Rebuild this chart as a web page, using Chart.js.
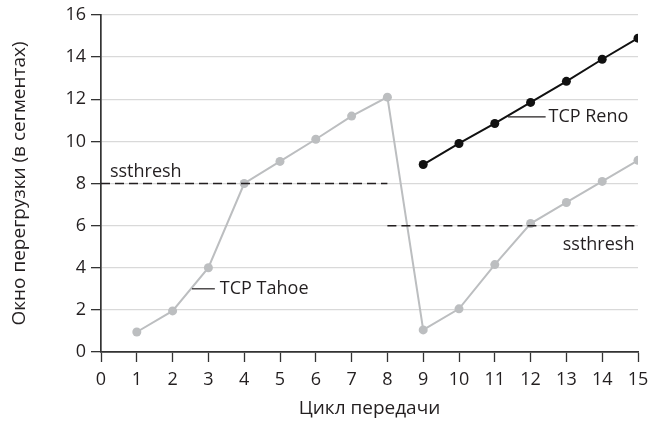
<!DOCTYPE html>
<html>
<head>
<meta charset="utf-8">
<script src="https://cdn.jsdelivr.net/npm/chart.js@4/dist/chart.umd.min.js"></script>
<style>
  html, body { margin: 0; padding: 0; background: #fff; }
  #wrap { width: 649px; height: 424px; }
</style>
</head>
<body>
<div id="wrap"><canvas id="cwnd"></canvas></div>
<script>
// данные
const tahoeRounds = [1, 2, 3, 4, 5, 6, 7, 8, 9, 10, 11, 12, 13, 14, 15];
const tahoeWindow = [0.95, 1.95, 4.0, 8.0, 9.05, 10.1, 11.2, 12.1, 1.05, 2.05, 4.15, 6.1, 7.1, 8.1, 9.1];
const renoRounds = [9, 10, 11, 12, 13, 14, 15];
const renoWindow = [8.9, 9.9, 10.85, 11.85, 12.85, 13.9, 14.9];
const ssthreshRounds1 = [0, 8];
const ssthreshValue1 = [8, 8];
const ssthreshRounds2 = [8, 15];
const ssthreshValue2 = [6, 6];
const xTicks = [0, 1, 2, 3, 4, 5, 6, 7, 8, 9, 10, 11, 12, 13, 14, 15];
const yTicks = [0, 2, 4, 6, 8, 10, 12, 14, 16];

const FONT = "'Open Sans', 'DejaVu Sans', sans-serif";
const INK = '#231f20';
const toPts = (xs, ys) => xs.map((x, i) => ({ x: x, y: ys[i] }));

// подписи внутри графика
const notes = [
    { text: 'ssthresh', x: 0.25, y: 8.55, align: 'left' },
    { text: 'ssthresh', x: 14.9, y: 5.1, align: 'right' },
    { text: 'TCP Tahoe', x: 3.32, y: 3.0, align: 'left', lead: [2.54, 3.18] },
    { text: 'TCP Reno', x: 12.5, y: 11.16, align: 'left', lead: [11.37, 12.42] }
];

const notesPlugin = {
    id: 'notes',
    afterDatasetsDraw(chart) {
        const { ctx, scales: { x, y } } = chart;
        ctx.save();
        ctx.font = '18px ' + FONT;
        ctx.fillStyle = INK;
        ctx.strokeStyle = INK;
        ctx.lineWidth = 1.2;
        ctx.textBaseline = 'middle';
        notes.forEach(n => {
            const py = y.getPixelForValue(n.y);
            if (n.lead) {
                ctx.beginPath();
                ctx.moveTo(x.getPixelForValue(n.lead[0]), py);
                ctx.lineTo(x.getPixelForValue(n.lead[1]), py);
                ctx.stroke();
            }
            ctx.textAlign = n.align;
            ctx.fillText(n.text, x.getPixelForValue(n.x), py);
        });
        ctx.restore();
    }
};

new Chart(document.getElementById('cwnd'), {
    type: 'line',
    data: {
        datasets: [
            {
                label: 'ssthresh 1',
                data: toPts(ssthreshRounds1, ssthreshValue1),
                borderColor: INK,
                borderWidth: 1.5,
                borderDash: [9, 5],
                pointRadius: 0
            },
            {
                label: 'ssthresh 2',
                data: toPts(ssthreshRounds2, ssthreshValue2),
                borderColor: INK,
                borderWidth: 1.5,
                borderDash: [9, 5],
                pointRadius: 0
            },
            {
                label: 'TCP Tahoe',
                data: toPts(tahoeRounds, tahoeWindow),
                borderColor: '#bcbec0',
                backgroundColor: '#bcbec0',
                borderWidth: 2,
                pointRadius: 4.5,
                pointBorderWidth: 0,
                tension: 0
            },
            {
                label: 'TCP Reno',
                data: toPts(renoRounds, renoWindow),
                borderColor: '#111',
                backgroundColor: '#111',
                borderWidth: 2,
                pointRadius: 4.5,
                pointBorderWidth: 0,
                tension: 0
            }
        ]
    },
    options: {
        responsive: true,
        maintainAspectRatio: false,
        animation: false,
        layout: { padding: { top: 15, right: 11, left: 0, bottom: 0 } },
        plugins: {
            legend: { display: false },
            tooltip: { enabled: false }
        },
        scales: {
            x: {
                type: 'linear',
                min: 0,
                max: 15,
                afterBuildTicks: s => { s.ticks = xTicks.map(v => ({ value: v })); },
                ticks: { font: { family: FONT, size: 18 }, color: INK, padding: 7, maxRotation: 0 },
                grid: { color: 'transparent', tickColor: '#333', tickLength: 10, tickWidth: 1.3 },
                border: { color: '#333', width: 1.7 },
                title: {
                    display: true,
                    text: 'Цикл передачи',
                    font: { family: FONT, size: 19 },
                    color: INK,
                    padding: { top: 9 }
                },
                afterFit: s => {
                    s.height = 72;
                    s.paddingLeft = 0;
                    s.paddingRight = 0;
                }
            },
            y: {
                min: 0,
                max: 16,
                afterBuildTicks: s => { s.ticks = yTicks.map(v => ({ value: v })); },
                ticks: { font: { family: FONT, size: 18 }, color: INK, padding: 5 },
                grid: { color: '#d9d9d9', lineWidth: 1.3, tickColor: '#333', tickLength: 10, tickWidth: 1.3 },
                border: { color: '#333', width: 1.7 },
                title: {
                    display: true,
                    text: 'Окно перегрузки (в сегментах)',
                    font: { family: FONT, size: 19 },
                    color: INK,
                    padding: { top: 8, bottom: 0 }
                },
                afterFit: s => {
                    s.width = 101;
                    s.paddingTop = 0;
                    s.paddingBottom = 0;
                }
            }
        }
    },
    plugins: [notesPlugin]
});
</script>
</body>
</html>
